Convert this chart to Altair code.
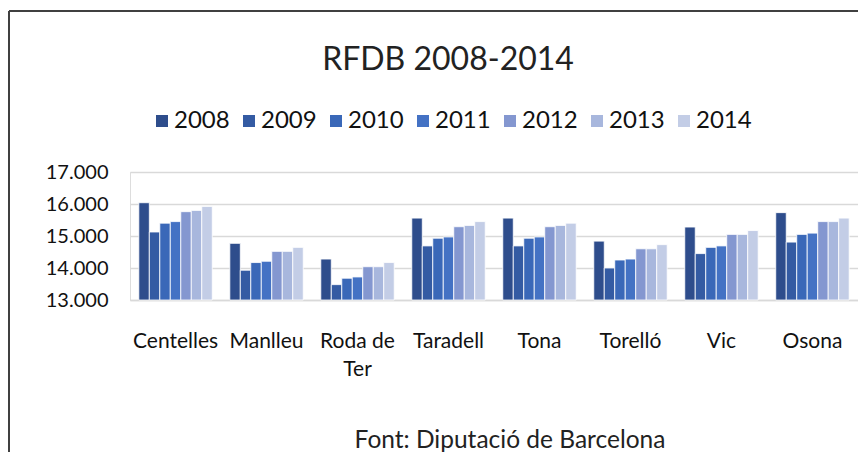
import altair as alt
import pandas as pd

municipis = ["Centelles", "Manlleu", "Roda de Ter", "Taradell", "Tona", "Torelló", "Vic", "Osona"]
anys = ["2008", "2009", "2010", "2011", "2012", "2013", "2014"]
v2008 = [16040, 14770, 14280, 15560, 15560, 14840, 15280, 15730]
v2009 = [15125, 13930, 13480, 14690, 14690, 14000, 14450, 14810]
v2010 = [15400, 14170, 13680, 14930, 14930, 14250, 14645, 15050]
v2011 = [15450, 14210, 13720, 14970, 14970, 14280, 14690, 15090]
v2012 = [15760, 14520, 14040, 15290, 15290, 14600, 15050, 15450]
v2013 = [15800, 14520, 14040, 15330, 15330, 14600, 15050, 15450]
v2014 = [15925, 14645, 14170, 15450, 15400, 14730, 15170, 15560]
colors = ["#2E4D8C", "#345BA3", "#3A68B8", "#4472C4", "#8497D0", "#A8B7DD", "#C3CDE6"]
y_ticks = [13000, 14000, 15000, 16000, 17000]

series = [v2008, v2009, v2010, v2011, v2012, v2013, v2014]
rows = []
for any_, vals in zip(anys, series):
    for m, v in zip(municipis, vals):
        rows.append({"municipi": m, "any": any_, "valor": v})
df = pd.DataFrame(rows)

FONT = "Lato"

bars = alt.Chart(df).mark_bar(stroke="white", strokeWidth=0.8).encode(
    x=alt.X("municipi:N", sort=municipis,
            scale=alt.Scale(paddingInner=0.193, paddingOuter=0.097),
            axis=alt.Axis(title=None, labelAngle=0, ticks=False, domain=True,
                          domainColor="#D9D9D9", domainWidth=1.5,
                          labelFont=FONT, labelFontSize=21, labelColor="#111",
                          labelPadding=30, labelLineHeight=28, labelOverlap=False,
                          labelLimit=200,
                          labelExpr="datum.label == 'Roda de Ter' ? ['Roda de', 'Ter'] : datum.label")),
    xOffset=alt.XOffset("any:N", sort=anys, scale=alt.Scale(paddingInner=0, paddingOuter=0)),
    y=alt.Y("valor:Q", scale=alt.Scale(domain=[13000, 17000], zero=False, nice=False),
            axis=alt.Axis(title=None, values=y_ticks, grid=True, gridColor="#D9D9D9",
                          gridWidth=1.5, domain=False, ticks=False, labelPadding=22,
                          labelFont=FONT, labelFontSize=20, labelColor="#111",
                          labelExpr="replace(format(datum.value, ','), ',', '.')")),
    y2=alt.datum(13000),
    color=alt.Color("any:N", sort=anys, scale=alt.Scale(domain=anys, range=colors),
                    legend=alt.Legend(title=None, orient="none", legendX=20, legendY=-63,
                                      direction="horizontal", columns=7,
                                      symbolType="square", symbolSize=144,
                                      symbolStrokeWidth=0, labelFont=FONT,
                                      labelFontSize=24, labelColor="#111",
                                      columnPadding=7, labelOffset=0)),
)

one = pd.DataFrame({"t": ["Font: Diputació de Barcelona"]})
footer = alt.Chart(one).mark_text(font=FONT, fontSize=24.5, color="#222",
                                  align="center", baseline="alphabetic").encode(
    text="t:N", x=alt.value(380), y=alt.value(276))

frame_v = alt.Chart(one).mark_rule(color="#404040", strokeWidth=2).encode(
    x=alt.value(-121), y=alt.value(-161), y2=alt.value(290))
frame_h = alt.Chart(one).mark_rule(color="#404040", strokeWidth=2).encode(
    x=alt.value(-121), x2=alt.value(740), y=alt.value(-161))

chart = alt.layer(bars, footer, frame_v, frame_h).properties(
    width=728, height=128,
    title=alt.TitleParams("RFDB 2008-2014", font=FONT, fontSize=32, fontWeight="normal",
                          color="#222", anchor="middle", dx=-46, offset=0, dy=92,
                          baseline="alphabetic", frame="group"),
    autosize=alt.AutoSizeParams(type="none"),
    padding={"left": 122, "top": 164, "right": 0, "bottom": 152},
).configure_view(stroke=None).configure(background="white")

chart.save("out.html", embed_options={"renderer": "svg", "actions": False})
